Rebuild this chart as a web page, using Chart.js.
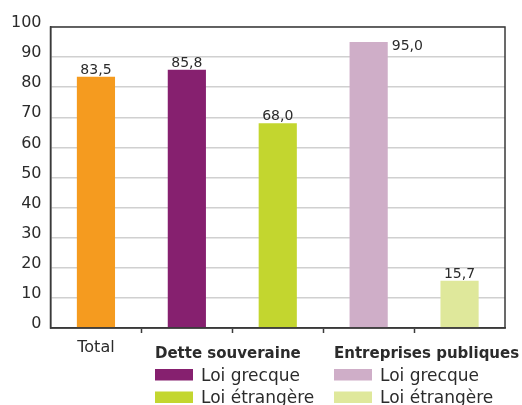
<!DOCTYPE html>
<html>
<head>
<meta charset="utf-8">
<script src="https://cdn.jsdelivr.net/npm/chart.js@4/dist/chart.umd.min.js"></script>
<style>
  html, body { margin: 0; padding: 0; background: #fff; }
  canvas { display: block; }
</style>
</head>
<body>
<canvas id="barChart" width="522" height="405"></canvas>
<script>
// Bar chart: Total, then sovereign debt and public companies split by governing law

const groups = ['Total', 'Dette souveraine', 'Dette souveraine', 'Entreprises publiques', 'Entreprises publiques']
const lawLabels = ['', 'Loi grecque', 'Loi étrangère', 'Loi grecque', 'Loi étrangère']
const values = [83.5, 85.8, 68.0, 95.0, 15.7]
const xTickLabels = ['Total', '', '', '', '']
const yTickValues = [0, 10, 20, 30, 40, 50, 60, 70, 80, 90, 100]

const barColors = ['#f59b1f', '#86206f', '#c3d62f', '#cfaec8', '#dfe89b']
const textColor = '#2b2b2b'
const frameColor = '#3a3a3a'
const FONT = '"DejaVu Sans", sans-serif'

function fmt(v) {
  return v.toFixed(1).replace('.', ',')
}

// frame + value labels + grouped legend
const extras = {
  id: 'extras',
  afterDatasetsDraw(chart) {
    const { ctx, chartArea } = chart
    ctx.save()

    ctx.strokeStyle = frameColor
    ctx.lineWidth = 1.5
    ctx.strokeRect(chartArea.left, chartArea.top, chartArea.right - chartArea.left, chartArea.bottom - chartArea.top)

    ctx.font = '14px ' + FONT
    ctx.fillStyle = textColor
    chart.getDatasetMeta(0).data.forEach((bar, i) => {
      const text = fmt(values[i])
      const half = bar.width / 2
      if (bar.y - 20 < chartArea.top) {
        // no room above the bar: put it beside
        ctx.textAlign = 'left'
        ctx.textBaseline = 'top'
        ctx.fillText(text, bar.x + half + 4, bar.y - 3)
      } else {
        ctx.textAlign = 'center'
        ctx.textBaseline = 'alphabetic'
        ctx.fillText(text, bar.x, bar.y - 3)
      }
    })

    // legend, one column per group
    const legendX = [155, 334]
    const names = [...new Set(groups.filter((g, i) => lawLabels[i] !== ''))]
    names.forEach((name, gi) => {
      const x = legendX[gi]
      ctx.textAlign = 'left'
      ctx.textBaseline = 'alphabetic'
      ctx.fillStyle = textColor
      ctx.font = 'bold 15px ' + FONT
      ctx.fillText(name, x, 358)
      let row = 0
      groups.forEach((g, i) => {
        if (g !== name || lawLabels[i] === '') return
        const base = 380.5 + row * 22.5
        ctx.fillStyle = barColors[i]
        ctx.fillRect(x, base - 11.5, 38, 11.5)
        ctx.fillStyle = textColor
        ctx.font = '17px ' + FONT
        ctx.fillText(lawLabels[i], x + 46, base)
        row++
      })
    })

    ctx.restore()
  },
}

const data = {
  labels: xTickLabels,
  datasets: [
    {
      label: 'Valeur',
      data: values,
      backgroundColor: barColors,
      borderWidth: 0,
      barPercentage: 0.42,
      categoryPercentage: 1,
    },
  ],
}

// only the separators between categories get a tick mark
function innerTick(c) {
  return c.index === undefined || c.index === 0 ? 'rgba(0,0,0,0)' : frameColor
}

const config = {
  type: 'bar',
  data: data,
  options: {
    responsive: false,
    animation: false,
    layout: { padding: { top: 27, right: 17, left: 0, bottom: 0 } },
    plugins: {
      legend: { display: false },
      tooltip: { enabled: false },
    },
    scales: {
      x: {
        offset: true,
        grid: {
          offset: true,
          drawOnChartArea: false,
          drawTicks: true,
          tickLength: 5,
          tickWidth: 1.5,
          tickColor: innerTick,
        },
        border: { display: true, color: frameColor, width: 1.5 },
        ticks: {
          color: textColor,
          font: { family: FONT, size: 16 },
          padding: 5,
          maxRotation: 0,
          autoSkip: false,
        },
        afterFit: (s) => { s.height = 77 },
      },
      y: {
        min: 0,
        max: 100,
        afterBuildTicks: (s) => { s.ticks = yTickValues.map((v) => ({ value: v })) },
        grid: { color: '#d0d0d0', lineWidth: 1.5, drawTicks: false },
        border: { display: true, color: frameColor, width: 1.5 },
        ticks: {
          color: textColor,
          font: { family: FONT, size: 16 },
          padding: 9,
          labelOffset: -4,
        },
        afterFit: (s) => { s.width = 50.5 },
      },
    },
  },
  plugins: [extras],
}

const myChart = new Chart(document.getElementById('barChart'), config)
</script>
</body>
</html>
